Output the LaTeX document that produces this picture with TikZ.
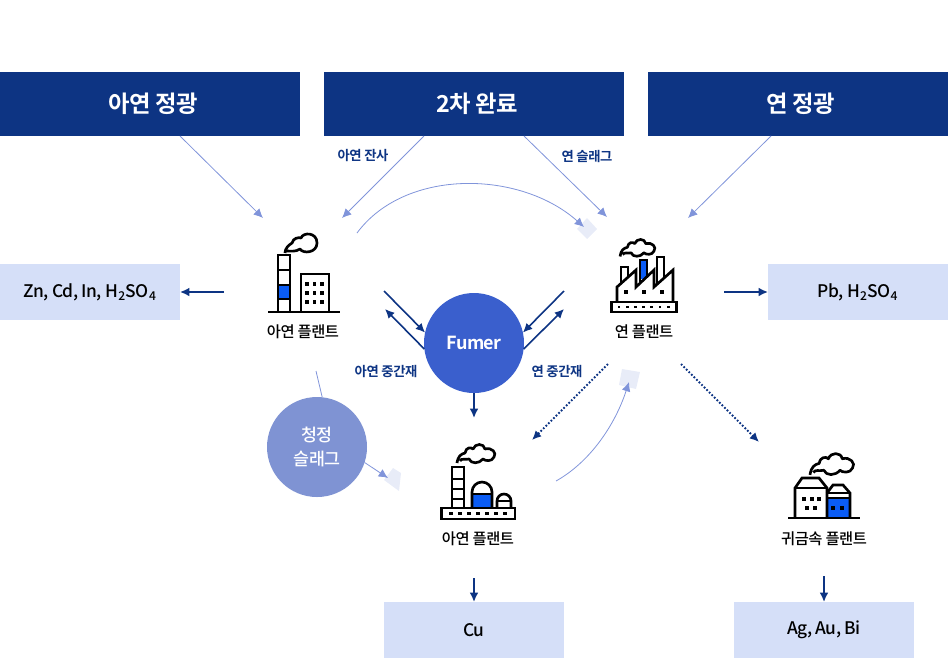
\documentclass[tikz,border=0pt]{standalone}
\usepackage{fontspec}
\setmainfont{Noto Sans CJK KR Medium}[BoldFont=Noto Sans CJK KR Bold,LetterSpace=-3.0]
\usetikzlibrary{arrows.meta}
\definecolor{navy}{HTML}{0D3483}
\definecolor{paleblue}{HTML}{D5DFF8}
\definecolor{thinblue}{HTML}{8094DA}
\definecolor{fumerblue}{HTML}{3A5FCD}
\definecolor{slagblue}{HTML}{7F93D3}
\definecolor{iconblue}{HTML}{0A5CF5}
\definecolor{patch}{HTML}{E8ECF8}
\newcommand{\headtext}[1]{\raisebox{-1.2pt}{\hspace*{4.5pt}#1}}
\tikzset{
  headbox/.style={fill=navy,text=white,font=\bfseries\fontsize{17.5}{18}\selectfont,minimum width=225pt,minimum height=48pt,inner sep=0pt,outer sep=0pt},
  outbox/.style={fill=paleblue,text=black,font=\fontsize{13}{14}\selectfont,minimum width=135pt,minimum height=42pt,inner sep=0pt,outer sep=0pt},
  plantlabel/.style={text=black,font=\fontsize{11.5}{12}\selectfont,inner sep=0pt},
  flowlabel/.style={text=navy,font=\bfseries\fontsize{10}{11}\selectfont,inner sep=0pt},
  bigflow/.style={draw=navy,line width=1.2pt,-{Latex[length=7pt,width=6.5pt]}},
  dotflow/.style={draw=navy,line width=1.5pt,dash pattern=on 1.3pt off 1.4pt,-{Latex[length=7pt,width=6.5pt]}},
  thinflow/.style={draw=thinblue,line width=.6pt,-{Latex[length=7pt,width=6.5pt]}},
  icon/.style={draw=black,line width=2pt,line join=miter},
  pics/smokecloud/.style={code={
    \draw[line width=2pt,line join=round,fill=white] (0,19) .. controls (1,12) and (4,10) .. (8,9)
      .. controls (9,3) and (14,3) .. (16,5) .. controls (18,-1) and (27,-1) .. (28,5)
      .. controls (35,3) and (40,9) .. (37,13) .. controls (35,18) and (28,17) .. (26,15)
      .. controls (22,20) and (14,20) .. (12,15) .. controls (8,16) and (4,14) .. (3,17);
  }}
}
\begin{document}
\begin{tikzpicture}[x=.75pt,y=-.75pt]
  \useasboundingbox (0,0) rectangle (948,658);
  % top row
  \node[headbox] (headzinc) at (150,104) {\headtext{아연 정광}};
  \node[headbox] (headraw) at (474,104) {\headtext{2차 완료}};
  \node[headbox] (headlead) at (798,104) {\headtext{연 정광}};
  % output boxes
  \node[outbox] (boxzinc) at (90,292) {Zn, Cd, In, H\textsubscript{2}SO\textsubscript{4}};
  \node[outbox] (boxlead) at (858,292) {Pb, H\textsubscript{2}SO\textsubscript{4}};
  \node[outbox] (boxcu) at (474,630) {Cu};
  \node[outbox] (boxag) at (824,630) {\raisebox{-.7pt}{Ag, Au, Bi}};
  % circles
  \node[circle,fill=fumerblue,text=white,minimum size=75pt,inner sep=0pt,outer sep=0pt,font=\bfseries\fontsize{13.5}{16}\selectfont] (fumer) at (474,343) {Fumer};
  \node[circle,fill=slagblue,text=white,minimum size=75pt,inner sep=0pt,outer sep=0pt,align=center,font=\fontsize{13}{18}\selectfont] (slag) at (317,447) {청정\\슬래그};
  % pale patches behind the arrow tips
  \fill[patch] (587,218) -- (597,229) -- (587,239) -- (577,229) -- cycle;
  \fill[patch] (622,369) -- (640,372) -- (636,389) -- (619,385) -- cycle;
  \fill[patch] (393,468) -- (401,473) -- (399,491) -- (384,480) -- cycle;
  % free ends
  \coordinate (tipzinca) at (263,218);
  \coordinate (tipzincb) at (342,218);
  \coordinate (tipleada) at (607,217);
  \coordinate (tipleadb) at (688,218);
  \coordinate (arcfrom) at (357,233);
  \coordinate (arcto) at (584,227);
  \coordinate (zincout) at (224,292);
  \coordinate (leadout) at (724,292);
  \coordinate (zincfuma) at (384,291);
  \coordinate (zincfumb) at (385,309);
  \coordinate (leadfuma) at (564,291);
  \coordinate (leadfumb) at (564,309);
  \coordinate (fumerdown) at (474,418);
  \coordinate (dotfrom) at (608,364);
  \coordinate (dotto) at (532,440);
  \coordinate (dotfromb) at (681,364);
  \coordinate (dottob) at (759,442);
  \coordinate (curvefrom) at (556,481);
  \coordinate (curveto) at (629,382);
  \coordinate (slagtop) at (316,371);
  \coordinate (slagto) at (388,478);
  \coordinate (cuout) at (474,578);
  \coordinate (agout) at (824,576);
  % connectors
  \draw[thinflow] ([xshift=22.5pt]headzinc.south) -- (tipzinca);
  \draw[thinflow] ([xshift=-37.5pt]headraw.south) -- (tipzincb);
  \draw[thinflow] ([xshift=37.5pt]headraw.south) -- (tipleada);
  \draw[thinflow] ([xshift=-20.25pt]headlead.south) -- (tipleadb);
  \draw[thinflow] (arcfrom) .. controls (405,168) and (520,170) .. (arcto);
  \draw[thinflow] (curvefrom) .. controls (590,462) and (615,425) .. (curveto);
  \draw[thinblue,line width=.6pt] (slagtop) -- (slag.84);
  \draw[thinflow] (slag.-18) -- (slagto);
  \draw[bigflow] (zincout) -- (boxzinc.east);
  \draw[bigflow] (leadout) -- (boxlead.west);
  \draw[bigflow] (zincfuma) -- (fumer.168);
  \draw[bigflow] (fumer.187) -- (zincfumb);
  \draw[bigflow] (leadfuma) -- (fumer.12);
  \draw[bigflow] (fumer.-7) -- (leadfumb);
  \draw[bigflow] (fumer.south) -- (fumerdown);
  \draw[bigflow] (cuout) -- (boxcu.north);
  \draw[bigflow] (agout) -- (boxag.north);
  \draw[dotflow] (dotfrom) -- (dotto);
  \draw[dotflow] (dotfromb) -- (dottob);
  % labels
  \node[flowlabel] (lblresidue) at (363,156) {아연 잔사};
  \node[flowlabel] (lblslag) at (587,156) {연 슬래그};
  \node[flowlabel] (lblzincmid) at (386,371) {아연 중간재};
  \node[flowlabel] (lblleadmid) at (557,371) {연 중간재};
  \node[plantlabel] (plantzinc) at (303,332) {아연 플랜트};
  \node[plantlabel] (plantlead) at (644,332) {연 플랜트};
  \node[plantlabel] (plantcu) at (478,539) {아연 플랜트};
  \node[plantlabel] (plantag) at (824,539) {귀금속 플랜트};
  % zinc plant icon
  \draw[line width=2pt,line join=round] (285,253) .. controls (285,248) and (289,245) .. (292,243)
    .. controls (293,238) and (299,237) .. (301,238) .. controls (303,232) and (317,232) .. (317,243)
    .. controls (317,253) and (303,254) .. (300,249) .. controls (296,252) and (290,251) .. (287,251);
  \fill[iconblue] (278,285) rectangle (290,299);
  \draw[icon] (278,312) -- (278,255) -- (290,255) -- (290,312);
  \draw[icon] (278,270) -- (290,270) (278,285) -- (290,285) (278,299) -- (290,299);
  \draw[icon] (301,312) -- (301,274) -- (329,274) -- (329,312);
  \draw[icon] (268,312) -- (340,312);
  \foreach \px in {307,314.5,322} \foreach \py in {284,293,302}
    \fill (\px-1.7,\py-1.7) rectangle (\px+1.7,\py+1.7);
  % lead plant icon
  \pic[scale=.92] at (620,239) {smokecloud};
  \draw[icon] (628,277) -- (628,267) -- (621,267) -- (621,283);
  \fill[iconblue] (641,260) rectangle (646,279);
  \draw[icon] (640,283) -- (640,260) -- (647,260) -- (647,277);
  \draw[icon] (657,284) -- (657,257) -- (664,257) -- (664,278);
  \draw[icon] (617,302) -- (617,287) -- (636,270) -- (636,287) -- (654,270) -- (654,287) -- (673,270) -- (673,302);
  \draw[icon] (611.5,302) rectangle (676.5,312);
  \foreach \px in {626,644,662}
    \fill (\px-2.2,290) rectangle (\px+2.2,294.4);
  \foreach \px in {0,...,6}
    \fill (619+8.2*\px-1.4,305.6) rectangle (619+8.2*\px+1.4,308.4);
  % copper plant icon
  \pic at (457,444) {smokecloud};
  \draw[icon] (452,508) -- (452,467) -- (464,467) -- (464,508);
  \draw[icon] (452,479) -- (464,479) (452,489) -- (464,489) (452,499) -- (464,499);
  \fill[iconblue] (473,494) rectangle (491,508);
  \draw[icon] (472,508) -- (472,492) arc[start angle=180,end angle=360,radius=10] -- (492,508);
  \draw[icon] (472,494) -- (492,494);
  \draw[icon] (497,508) -- (497,501) arc[start angle=180,end angle=360,radius=7] -- (511,508);
  \draw[icon] (497,501) -- (511,501);
  \draw[icon] (441.5,508) rectangle (515,519);
  \foreach \px in {0,...,6}
    \fill (451+9*\px-1.6,512) rectangle (451+9*\px+1.6,515.4);
  % precious metal plant icon
  \pic[scale=1.15] at (810,453) {smokecloud};
  \fill[iconblue] (828,498) rectangle (850,518);
  \draw[icon] (795,518) -- (795,488) -- (802,478) -- (819,478) -- (827,488) -- (827,518);
  \draw[icon] (795,488) -- (827,488);
  \draw[icon] (827,493) -- (833,485) -- (843,485) -- (850,493) -- (850,518);
  \draw[icon] (827,493) -- (850,493) (827,498) -- (850,498);
  \draw[icon] (788,518) -- (860,518);
  \foreach \px in {804,812,819}
    \fill (\px-1.8,497.2) rectangle (\px+1.8,500.8);
  \foreach \px in {807,815,833,842}
    \fill (\px-1.8,506.2) rectangle (\px+1.8,509.8);
\end{tikzpicture}
\end{document}
